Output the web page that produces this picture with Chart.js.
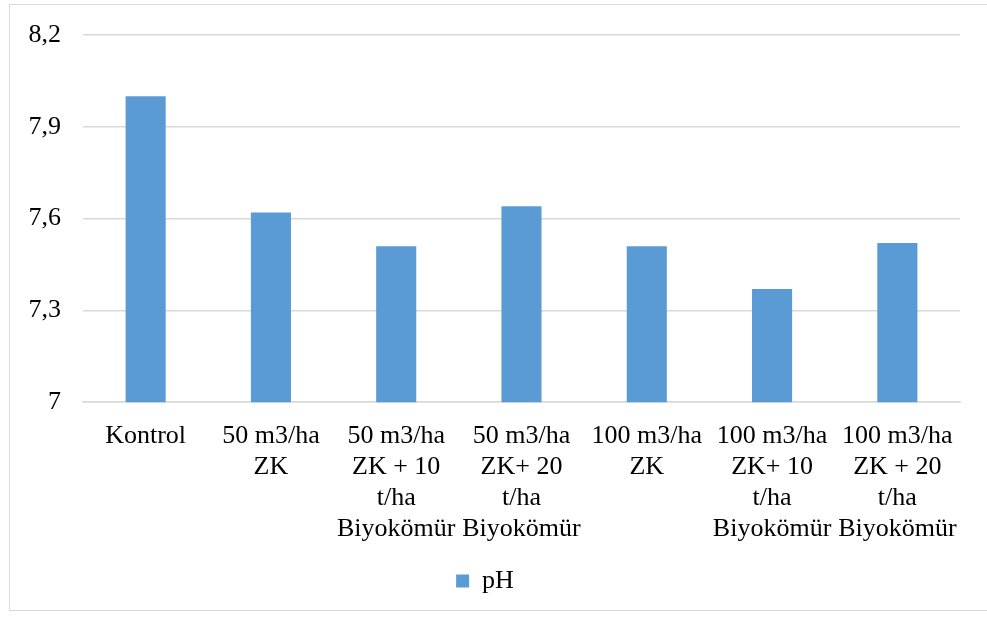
<!DOCTYPE html>
<html>
<head>
<meta charset="utf-8">
<script src="https://cdn.jsdelivr.net/npm/chart.js@4"></script>
<style>
  html, body { margin: 0; padding: 0; background: #fff; }
  #wrap { position: relative; width: 987px; height: 617px; overflow: hidden; }
  #frame { position: absolute; left: 9px; top: 4px; width: 990px; height: 607px; border: 1.5px solid #d9d9d9; box-sizing: border-box; }
  canvas { position: absolute; left: 0; top: 0; }
</style>
</head>
<body>
<div id="wrap">
  <div id="frame"></div>
  <canvas id="grafico" width="987" height="617"></canvas>
</div>
<script>
// Categorías y valores de pH
const categorias = [
  ["Kontrol"],
  ["50 m3/ha", "ZK"],
  ["50 m3/ha", "ZK + 10", "t/ha", "Biyokömür"],
  ["50 m3/ha", "ZK+ 20", "t/ha", "Biyokömür"],
  ["100 m3/ha", "ZK"],
  ["100 m3/ha", "ZK+ 10", "t/ha", "Biyokömür"],
  ["100 m3/ha", "ZK + 20", "t/ha", "Biyokömür"]
];
const valoresPH = [8.0, 7.62, 7.51, 7.64, 7.51, 7.37, 7.52];
const ticksY = [7, 7.3, 7.6, 7.9, 8.2];

const fuente = "'Liberation Serif', 'Times New Roman', serif";

const ctx = document.getElementById("grafico").getContext("2d");

new Chart(ctx, {
  type: "bar",
  data: {
    labels: categorias,
    datasets: [{
      label: "pH",
      data: valoresPH,
      backgroundColor: "#5B9BD5",
      borderWidth: 0,
      categoryPercentage: 1,
      barPercentage: 0.32
    }]
  },
  options: {
    responsive: false,
    animation: false,
    layout: { padding: { top: 5, right: 27, left: 10, bottom: 13 } },
    plugins: {
      tooltip: { enabled: false },
      legend: {
        position: "bottom",
        labels: {
          boxWidth: 13,
          boxHeight: 13,
          padding: 5,
          color: "#000",
          font: { family: fuente, size: 26 }
        }
      }
    },
    scales: {
      x: {
        grid: { display: false, drawTicks: false },
        border: { display: true, color: "#d9d9d9", width: 1.5 },
        ticks: {
          color: "#000",
          maxRotation: 0,
          autoSkip: false,
          padding: 18,
          font: { family: fuente, size: 26, lineHeight: 1.2 }
        }
      },
      y: {
        min: 7,
        max: 8.2,
        afterBuildTicks: axis => { axis.ticks = ticksY.map(v => ({ value: v })); },
        afterFit: axis => { axis.width = 73; },
        grid: { color: "#d9d9d9", lineWidth: 1.5, drawTicks: false },
        border: { display: false },
        ticks: {
          color: "#000",
          padding: 22,
          font: { family: fuente, size: 26, lineHeight: 1 },
          callback: v => String(v).replace(".", ",")
        }
      }
    }
  }
});
</script>
</body>
</html>
